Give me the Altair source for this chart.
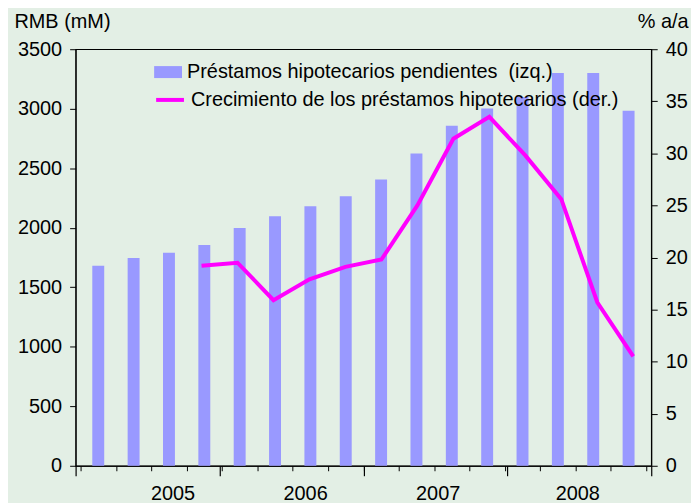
import altair as alt
import pandas as pd

# Data (quarterly, 16 periods)
quarters = ["2004T3", "2004T4", "2005T1", "2005T2", "2005T3", "2005T4", "2006T1", "2006T2",
            "2006T3", "2006T4", "2007T1", "2007T2", "2007T3", "2007T4", "2008T1", "2008T2"]
loans = [1680, 1746, 1790, 1855, 1997, 2097, 2180, 2264, 2406, 2623, 2857, 3001, 3099, 3300, 3300, 2982]
growth = [None, None, None, 19.2, 19.5, 15.9, 17.9, 19.1, 19.8, 25.0, 31.4, 33.5, 29.8, 25.6, 15.7, 10.5]
year_labels = ["2005", "2006", "2007", "2008"]
year_label_pos = [2.6, 6.35, 10.1, 14.05]
left_ticks = [0, 500, 1000, 1500, 2000, 2500, 3000, 3500]
right_ticks = [0, 5, 10, 15, 20, 25, 30, 35, 40]

bar_name = "Préstamos hipotecarios pendientes\u00a0 (izq.)"
line_name = "Crecimiento de los préstamos hipotecarios (der.)"

n = len(quarters)
df = pd.DataFrame({
    "q": quarters,
    "pos": [i + 0.5 for i in range(n)],
    "loans": loans,
    "growth": growth,
    "s_bar": bar_name,
    "s_line": line_name,
})
df_line = df.dropna(subset=["growth"])

FONT = "Liberation Sans"
FS = 20
W, H = 579, 419
XDOM = [0, n]

label_expr = " : ".join(
    f"datum.value < {i * 4 + 4} ? '{y}'" for i, y in enumerate(year_labels[:-1])
) + f" : '{year_labels[-1]}'"

bars = alt.Chart(df).mark_bar(width=12).encode(
    x=alt.X("pos:Q", scale=alt.Scale(domain=XDOM, nice=False, zero=False),
            axis=alt.Axis(orient="bottom", values=list(range(n + 1)), tickSize=5,
                          labels=False, title=None, grid=False, domainColor="black",
                          tickColor="black", domainWidth=1.2)),
    y=alt.Y("loans:Q", scale=alt.Scale(domain=[0, 3500], nice=False),
            axis=alt.Axis(orient="left", values=left_ticks, format="d", tickSize=6,
                          labelPadding=8,
                          title="RMB (mM)", titleAngle=0, titleX=-62, titleY=-28,
                          titleAlign="left", titleBaseline="middle", grid=False,
                          domainColor="black", tickColor="black")),
    fill=alt.Fill("s_bar:N", scale=alt.Scale(domain=[bar_name], range=["#9999FF"]),
                  legend=alt.Legend(orient="none", legendX=79, legendY=9, title=None,
                                    symbolType="M-1,-0.43L1,-0.43L1,0.43L-1,0.43Z",
                                    symbolSize=784, symbolOpacity=1, symbolStrokeWidth=0,
                                    labelLimit=1000, labelOffset=5, padding=0)),
)

line = alt.Chart(df_line).mark_line(strokeWidth=4, color="#FF00FF").encode(
    x=alt.X("pos:Q", scale=alt.Scale(domain=XDOM, nice=False, zero=False),
            axis=alt.Axis(orient="bottom", values=list(range(0, n + 1, 4)), tickSize=10,
                          labels=False, title=None, grid=False, domain=False,
                          tickColor="black", tickWidth=1.2)),
    y=alt.Y("growth:Q", scale=alt.Scale(domain=[0, 40], nice=False),
            axis=alt.Axis(orient="right", values=right_ticks, format="d", tickSize=6,
                          labelPadding=8,
                          title="% a/a", titleAngle=0, titleX=37, titleY=-28,
                          titleAlign="right", titleBaseline="middle", grid=False,
                          domainColor="black", tickColor="black")),
    stroke=alt.Stroke("s_line:N", scale=alt.Scale(domain=[line_name], range=["#FF00FF"]),
                      legend=alt.Legend(orient="none", legendX=79, legendY=35, title=None,
                                        symbolType="stroke", symbolSize=784,
                                        symbolStrokeWidth=4, labelLimit=1000,
                                        labelOffset=5, padding=0)),
)

years = alt.Chart(df).mark_bar(opacity=0).encode(
    x=alt.X("pos:Q", scale=alt.Scale(domain=XDOM, nice=False, zero=False),
            axis=alt.Axis(orient="bottom", values=year_label_pos, tickSize=0,
                          labelExpr=label_expr, labelPadding=18, title=None,
                          grid=False, domain=False)),
    y=alt.Y("loans:Q", scale=alt.Scale(domain=[0, 3500], nice=False), axis=None),
)

chart = alt.layer(bars, line, years).resolve_scale(
    x="independent", y="independent"
).resolve_axis(
    x="independent", y="independent"
).properties(
    width=W, height=H,
    padding={"left": 68, "top": 40, "right": 40, "bottom": 36},
    autosize=alt.AutoSizeParams(type="none"),
).configure(
    background="#E3EFE5", font=FONT,
).configure_view(
    stroke="black", strokeWidth=1.2,
).configure_axis(
    labelFont=FONT, labelFontSize=FS, labelColor="black",
    titleFont=FONT, titleFontSize=FS, titleColor="black", titleFontWeight="normal",
).configure_legend(
    labelFont=FONT, labelFontSize=FS, labelColor="black",
)

chart.save("out.html", embed_options={"renderer": "svg", "actions": False})
